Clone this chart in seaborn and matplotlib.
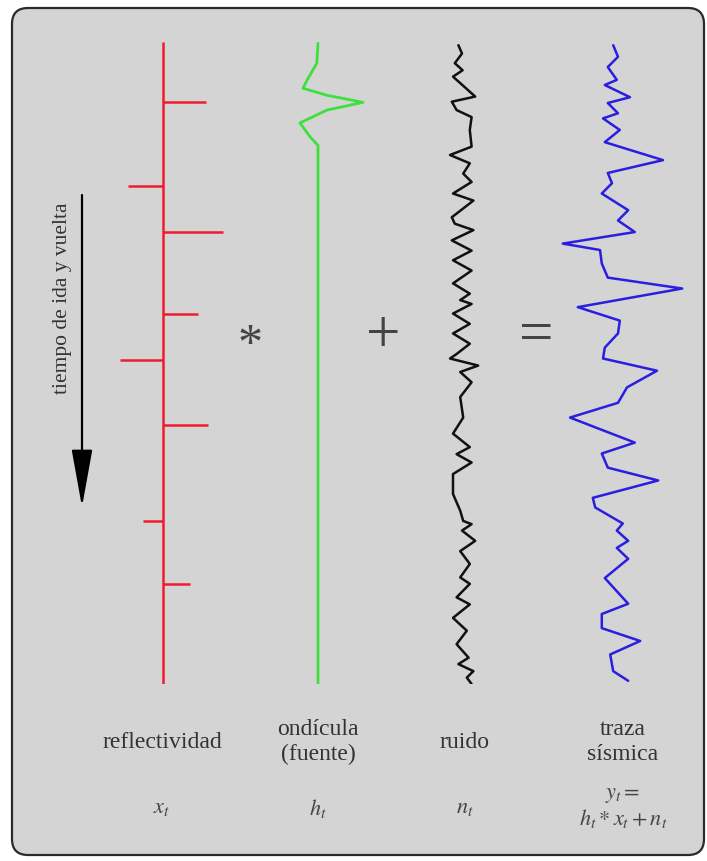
import numpy as np
import pandas as pd
import matplotlib
matplotlib.use("Agg")
import matplotlib.pyplot as plt
from matplotlib.patches import FancyBboxPatch
import seaborn as sns

# ---------------- data (time in ms, amplitude in arbitrary units) ----------------
refl_time = [94, 225, 296, 424, 495, 596, 746, 844]
refl_amp = [0.72, -0.58, 1.00, 0.58, -0.72, 0.75, -0.33, 0.45]

wavelet_time = [2, 33, 59, 72, 83, 94, 106, 126, 148, 161, 1000]
wavelet_amp = [0.0, -0.02, -0.18, -0.25, 0.15, 0.75, 0.15, -0.30, -0.13, 0.0, 0.0]

noise_time = [5, 18, 33, 44, 54, 64, 85, 93, 106, 117, 137, 163, 176, 189, 205, 218,
              236, 247, 273, 283, 293, 309, 325, 340, 356, 376, 392, 402, 408, 423,
              439, 454, 470, 486, 493, 504, 514, 530, 553, 585, 610, 631, 642, 655,
              673, 704, 730, 746, 751, 761, 777, 793, 813, 834, 844, 865, 876, 897,
              917, 938, 959, 969, 980, 990, 1000]
noise_amp = [-0.06, 0.00, -0.12, 0.01, -0.15, -0.03, 0.22, -0.17, -0.09, 0.16, 0.13,
             0.16, -0.20, 0.13, 0.02, 0.16, -0.15, 0.19, -0.17, -0.12, 0.19, -0.17,
             0.16, -0.15, 0.16, -0.15, 0.13, -0.03, 0.16, -0.15, 0.13, -0.15, 0.13,
             -0.09, -0.20, 0.27, -0.03, 0.16, -0.03, 0.02, -0.15, 0.13, -0.09, 0.16,
             -0.15, -0.15, -0.03, 0.02, 0.16, 0.00, 0.22, -0.03, 0.13, -0.03, 0.13,
             -0.09, 0.13, -0.15, 0.08, -0.09, 0.11, -0.06, 0.19, 0.08, 0.16]

trace_time = [5, 23, 39, 59, 67, 86, 95, 111, 119, 137, 156, 184, 204, 220, 236, 262,
              278, 296, 314, 324, 345, 367, 384, 413, 434, 454, 476, 493, 512, 538,
              562, 585, 624, 641, 663, 683, 710, 725, 750, 761, 777, 788, 805, 835,
              875, 891, 913, 933, 954, 980, 995]
trace_amp = [0.02, 0.10, -0.07, 0.08, -0.12, 0.30, -0.07, 0.10, -0.15, 0.13, -0.12,
             0.85, -0.07, 0.00, -0.17, 0.27, 0.10, 0.38, -0.82, -0.20, -0.17, -0.07,
             1.17, -0.57, 0.13, 0.10, -0.12, -0.15, 0.75, 0.25, 0.10, -0.70, 0.38,
             -0.17, -0.07, 0.77, -0.32, -0.28, 0.18, 0.08, 0.27, 0.08, 0.27, -0.12,
             0.27, -0.17, -0.17, 0.47, -0.03, 0.02, 0.27]

column_labels = ["reflectividad", "ondícula\n(fuente)", "ruido", "traza\nsísmica"]
math_labels = [r"$x_t$", r"$h_t$", r"$n_t$", "$y_t =$\n$h_t * x_t + n_t$"]
operators = ["*", "+", "="]
time_label = "tiempo de ida y vuelta"

# ---------------- figure ----------------
sns.set_theme(style="white")
plt.rcParams["font.family"] = ["Liberation Serif", "DejaVu Serif"]
plt.rcParams["mathtext.fontset"] = "stix"

W, H = 707, 861
fig = plt.figure(figsize=(W / 100, H / 100), dpi=100)
fig.patch.set_facecolor("white")

# background / annotation axes in pixel coordinates
bg = fig.add_axes([0, 0, 1, 1])
bg.set_xlim(0, W)
bg.set_ylim(H, 0)
bg.axis("off")
frame = FancyBboxPatch((12, 8), 692, 847, boxstyle="round,pad=0,rounding_size=16",
                       facecolor="#d4d4d4", edgecolor="#2a2a2a", lw=1.6)
bg.add_patch(frame)

txt_color = "#333333"
label_x = [162, 318, 465, 623]
for x, lab in zip(label_x, column_labels):
    bg.text(x, 742, lab, ha="center", va="center", fontsize=17, color=txt_color,
            linespacing=1.2)
for x, lab in zip(label_x, math_labels):
    bg.text(x, 808, lab, ha="center", va="center", fontsize=16, color="#444444",
            linespacing=1.1)

op_x = [250, 383, 536]
op_y = [346, 337, 337]
op_size = [36, 44, 44]
for x, y, op, s in zip(op_x, op_y, operators, op_size):
    bg.text(x, y, op, ha="center", va="center", fontsize=s, color="#444444")

bg.annotate("", xy=(82, 507), xytext=(82, 195),
            arrowprops=dict(arrowstyle="-|>,head_length=3.6,head_width=0.65",
                            mutation_scale=10, lw=1.6, color="black",
                            shrinkA=0, shrinkB=0))
bg.text(63, 298, time_label, rotation=90, ha="center", va="center",
        fontsize=15.5, color=txt_color)

# ---------------- trace axes ----------------
top_px, bot_px = 42, 684
half_w = 80
unit_px = 60.0


def trace_ax(center):
    ax = fig.add_axes([(center - half_w) / W, 1 - bot_px / H,
                       2 * half_w / W, (bot_px - top_px) / H])
    ax.patch.set_alpha(0)
    return ax


def finish(ax):
    ax.set_xlim(-half_w / unit_px, half_w / unit_px)
    ax.set_ylim(1000, 0)
    ax.axis("off")


# reflectivity
ax1 = trace_ax(163)
ax1.plot([0, 0], [0, 1000], color="#ee1c2e", lw=1.8, solid_capstyle="butt")
ax1.hlines(refl_time, 0, refl_amp, color="#ee1c2e", lw=1.8)
finish(ax1)

# wavelet
ax2 = trace_ax(318)
wdf = pd.DataFrame({"t": wavelet_time, "a": wavelet_amp})
sns.lineplot(data=wdf, x="a", y="t", sort=False, orient="y", ax=ax2,
             color="#3ee03e", lw=2.0, estimator=None)
finish(ax2)

# noise
ax3 = trace_ax(462)
ndf = pd.DataFrame({"t": noise_time, "a": noise_amp})
sns.lineplot(data=ndf, x="a", y="t", sort=False, orient="y", ax=ax3,
             color="#111111", lw=1.8, estimator=None)
finish(ax3)

# seismic trace
ax4 = trace_ax(612)
tdf = pd.DataFrame({"t": trace_time, "a": trace_amp})
sns.lineplot(data=tdf, x="a", y="t", sort=False, orient="y", ax=ax4,
             color="#2a1ee0", lw=1.8, estimator=None)
finish(ax4)

fig.savefig("out.png", dpi=100)
